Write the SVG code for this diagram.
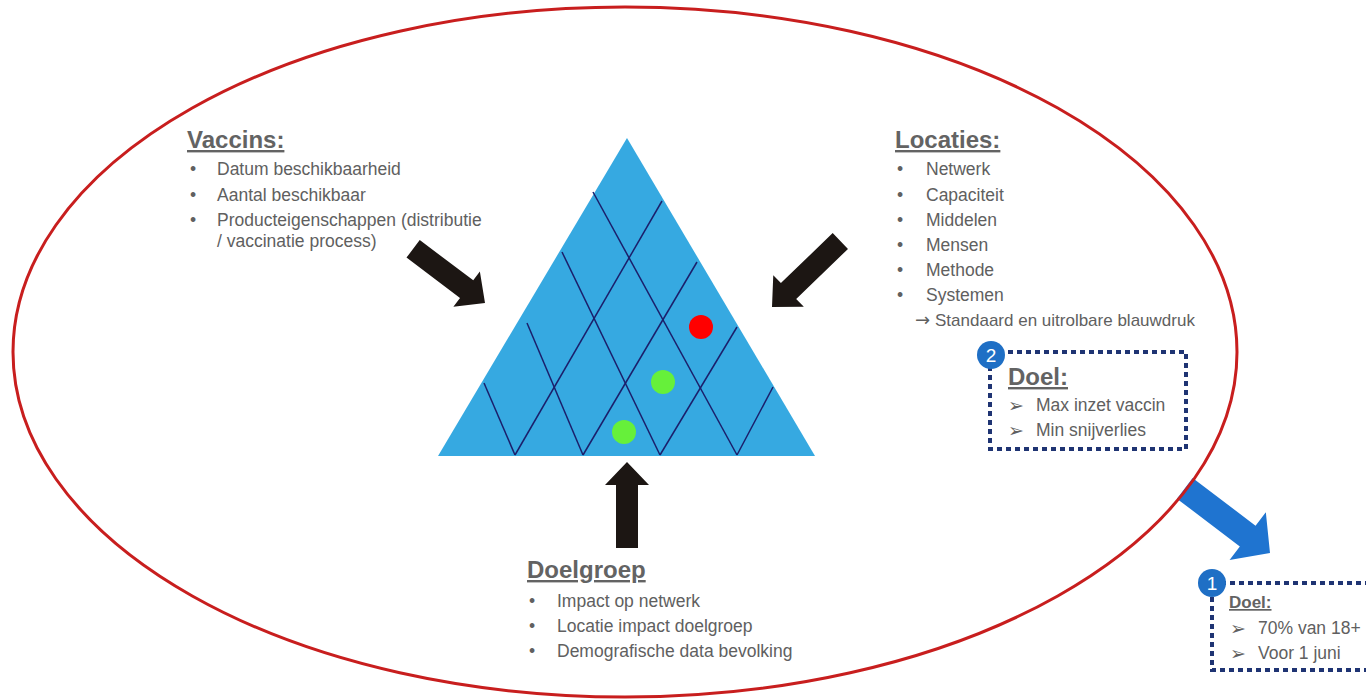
<svg xmlns="http://www.w3.org/2000/svg" width="1366" height="699" viewBox="0 0 1366 699">
<style>
.t{font-family:"Liberation Sans",Arial,sans-serif;fill:#606060;font-size:17.5px}
.h{font-family:"Liberation Sans",Arial,sans-serif;fill:#636363;font-size:24px;font-weight:bold;text-decoration:underline}
.grid{stroke:#1b1f6b;stroke-width:1.5;fill:none}
.blk{fill:#1c1613}
.box{fill:none;stroke:#1f3473;stroke-width:4;stroke-dasharray:5 4}
.num{fill:#1f6fc5}
.nt{font-family:"Liberation Sans",Arial,sans-serif;fill:#fff;font-size:19px;text-anchor:middle}
.ar{font-family:"DejaVu Sans",sans-serif;fill:#606060;font-size:19px}
</style>
<defs>
<polygon id="arr" points="0,0 -23,-22 -23,-11 -90,-11 -90,11 -23,11 -23,22"/>
</defs>
<rect width="1366" height="699" fill="#fff"/>
<g id="connectors">
<polygon points="0,0 -28,-30 -28,-13 -107,-13 -107,13 -28,13 -28,30" fill="#1f74d0" transform="translate(1270,553) rotate(37.2)"/>
<ellipse cx="625" cy="352" rx="612" ry="345" fill="none" stroke="#c81e1e" stroke-width="3"/>
<use href="#arr" class="blk" transform="translate(485,303) rotate(37)"/>
<polygon class="blk" points="0,0 -23,-22 -23,-11 -95,-11 -95,11 -23,11 -23,22" transform="translate(772,307) rotate(136)"/>
<polygon class="blk" points="0,0 -23,-22 -23,-11 -86,-11 -86,11 -23,11 -23,22" transform="translate(627,462) rotate(-90)"/>
</g>
<g id="triangle">
<polygon points="627,138 815,456 438,456" fill="#36a9e1"/>
<line class="grid" x1="593" y1="192" x2="737" y2="455"/>
<line class="grid" x1="562" y1="252" x2="660" y2="455"/>
<line class="grid" x1="527" y1="323" x2="583" y2="455"/>
<line class="grid" x1="484" y1="383" x2="515" y2="455"/>
<line class="grid" x1="662" y1="201" x2="515" y2="455"/>
<line class="grid" x1="697" y1="262" x2="583" y2="455"/>
<line class="grid" x1="737" y1="327" x2="660" y2="455"/>
<line class="grid" x1="773" y1="387" x2="737" y2="455"/>
<circle cx="701" cy="327" r="12" fill="#ff0000"/>
<circle cx="663" cy="382" r="12" fill="#66f03a"/>
<circle cx="624" cy="432" r="12" fill="#66f03a"/>
</g>
<g id="vaccins">
<text class="h" x="187" y="148">Vaccins:</text>
<text class="t" x="190" y="175">•</text><text class="t" x="217" y="175">Datum beschikbaarheid</text>
<text class="t" x="190" y="201">•</text><text class="t" x="217" y="201">Aantal beschikbaar</text>
<text class="t" x="190" y="226">•</text><text class="t" x="217" y="226">Producteigenschappen (distributie</text>
<text class="t" x="217" y="247">/ vaccinatie process)</text>
</g>
<g id="locaties">
<text class="h" x="895" y="148">Locaties:</text>
<text class="t" x="897" y="175">•</text><text class="t" x="926" y="175">Netwerk</text>
<text class="t" x="897" y="201">•</text><text class="t" x="926" y="201">Capaciteit</text>
<text class="t" x="897" y="226">•</text><text class="t" x="926" y="226">Middelen</text>
<text class="t" x="897" y="251">•</text><text class="t" x="926" y="251">Mensen</text>
<text class="t" x="897" y="276">•</text><text class="t" x="926" y="276">Methode</text>
<text class="t" x="897" y="301">•</text><text class="t" x="926" y="301">Systemen</text>
<text class="t" x="915" y="326"><tspan style="font-family:'DejaVu Sans',sans-serif;font-size:18px">→</tspan><tspan x="935" style="font-size:17px">Standaard en uitrolbare blauwdruk</tspan></text>
</g>
<g id="doelgroep">
<text class="h" x="527" y="578">Doelgroep</text>
<text class="t" x="529" y="607">•</text><text class="t" x="557" y="607">Impact op netwerk</text>
<text class="t" x="529" y="632">•</text><text class="t" x="557" y="632">Locatie impact doelgroep</text>
<text class="t" x="529" y="657">•</text><text class="t" x="557" y="657">Demografische data bevolking</text>
</g>
<g id="doel2">
<rect class="box" x="990" y="352" width="196" height="97"/>
<circle class="num" cx="991" cy="355" r="14"/>
<text class="nt" x="991" y="362">2</text>
<text class="h" x="1008" y="385">Doel:</text>
<text class="ar" x="1008" y="412">➢</text><text class="t" x="1036" y="411">Max inzet vaccin</text>
<text class="ar" x="1008" y="437">➢</text><text class="t" x="1036" y="436">Min snijverlies</text>
</g>
<g id="doel1">
<rect class="box" x="1212" y="583" width="170" height="87"/>
<circle class="num" cx="1212" cy="583" r="14"/>
<text class="nt" x="1212" y="590">1</text>
<text class="h" x="1229" y="608" style="font-size:17px">Doel:</text>
<text class="ar" x="1230" y="635">➢</text><text class="t" x="1258" y="634">70% van 18+</text>
<text class="ar" x="1230" y="660">➢</text><text class="t" x="1258" y="659">Voor 1 juni</text>
</g>
</svg>
